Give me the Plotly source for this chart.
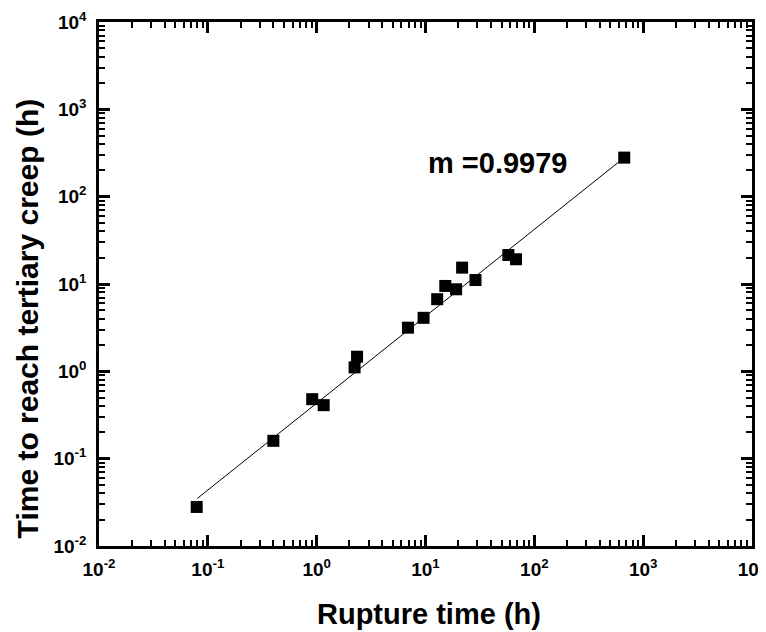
import plotly.graph_objects as go

# Data (log-log)
rupture_time = [0.079, 0.40, 0.91, 1.16, 2.23, 2.35, 6.9, 9.6, 12.8, 15.2, 19.1, 21.7, 28.8, 57.7, 67.9, 670]
tertiary_time = [0.028, 0.16, 0.48, 0.41, 1.11, 1.47, 3.16, 4.1, 6.7, 9.5, 8.7, 15.4, 11.1, 21.5, 19.2, 280]

fit_x = [0.08, 670]
fit_y = [0.035, 280]

tick_vals = [1e-2, 1e-1, 1, 10, 100, 1000, 1e4]
tick_text = ["10<sup>-2</sup>", "10<sup>-1</sup>", "10<sup>0</sup>", "10<sup>1</sup>",
             "10<sup>2</sup>", "10<sup>3</sup>", "10<sup>4</sup>"]
minor_vals = [k * 10.0 ** d for d in range(-2, 4) for k in range(2, 10)]

x_title = "Rupture time (h)"
y_title = "Time to reach tertiary creep (h)"
annotation_text = "m =0.9979"

FONT = "Liberation Sans, Arial, sans-serif"
INK = "#000000"

fig = go.Figure()
# fit line drawn on the overlay axes (identical ranges) so the minor-tick axes are rendered
fig.add_trace(go.Scatter(x=fit_x, y=fit_y, mode="lines", xaxis="x2", yaxis="y2",
                         line=dict(color=INK, width=1), showlegend=False))
fig.add_trace(go.Scatter(x=rupture_time, y=tertiary_time, mode="markers",
                         marker=dict(symbol="square", size=12, color=INK),
                         showlegend=False))

major = dict(
    type="log", range=[-2, 4], showgrid=False, zeroline=False, automargin=False,
    showline=True, linecolor=INK, linewidth=2.5, mirror="ticks",
    ticks="inside", ticklen=11, tickwidth=3, tickcolor=INK,
    tickmode="array", tickvals=tick_vals, ticktext=tick_text,
    ticklabeloverflow="allow",
    tickfont=dict(family=FONT, size=19, color=INK, weight="bold"),
)
minor = dict(
    type="log", range=[-2, 4], showgrid=False, zeroline=False, automargin=False,
    showline=False, mirror="ticks", showticklabels=False,
    ticks="inside", ticklen=6, tickwidth=2, tickcolor=INK,
    tickmode="array", tickvals=minor_vals,
)

fig.update_layout(
    xaxis=dict(**major, ticklabelstandoff=4),
    yaxis=dict(**major, ticklabelstandoff=6),
    xaxis2=dict(**minor, overlaying="x", anchor="y2", side="bottom"),
    yaxis2=dict(**minor, overlaying="y", anchor="x2", side="left"),
)

fig.add_annotation(x=1.0, y=2.39, xref="x", yref="y", text="<b>" + annotation_text + "</b>",
                   showarrow=False, xanchor="left", yanchor="middle",
                   font=dict(family=FONT, size=29, color=INK))
fig.add_annotation(x=0.506, y=-0.096, xref="paper", yref="paper", text="<b>" + x_title + "</b>",
                   showarrow=False, xanchor="center", yanchor="top",
                   font=dict(family=FONT, size=29, color=INK))
fig.add_annotation(x=-0.109, y=0.434, xref="paper", yref="paper", text="<b>" + y_title + "</b>",
                   showarrow=False, xanchor="center", yanchor="middle", textangle=-90,
                   font=dict(family=FONT, size=30, color=INK))

# page body adds an 8px offset, so figure is 8px smaller than the window
fig.update_layout(
    width=758, height=624,
    margin=dict(l=91, r=14, t=14, b=86),
    paper_bgcolor="white", plot_bgcolor="white",
)

fig.write_html("out.html")
